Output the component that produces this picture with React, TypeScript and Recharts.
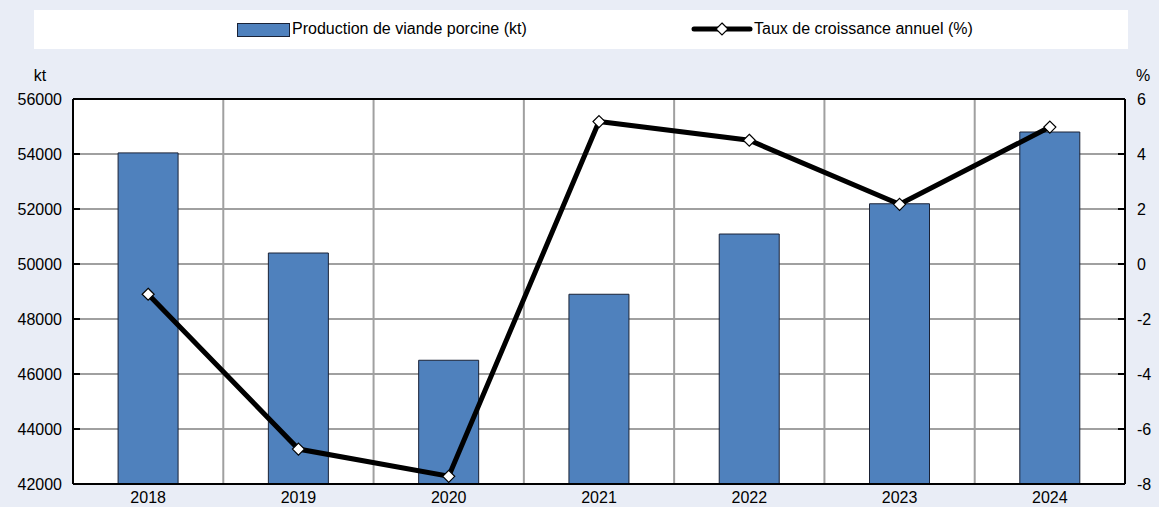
import {
  ComposedChart,
  Bar,
  Line,
  XAxis,
  YAxis,
  CartesianGrid,
  ReferenceLine,
} from 'recharts';

const years = ['2018', '2019', '2020', '2021', '2022', '2023', '2024'];
const production = [54040, 50400, 46500, 48900, 51090, 52190, 54800];
const growthRate = [-1.1, -6.73, -7.72, 5.18, 4.5, 2.17, 4.98];

const leftTicks = [42000, 44000, 46000, 48000, 50000, 52000, 54000, 56000];
const rightTicks = [-8, -6, -4, -2, 0, 2, 4, 6];

const BAR_NAME = 'Production de viande porcine (kt)';
const LINE_NAME = 'Taux de croissance annuel (%)';

const FONT = "'Liberation Sans', Arial, sans-serif";
const BG = '#e9edf6';
const BAR_FILL = '#4f81bd';

const data = years.map((year, i) => ({
  year,
  production: production[i],
  growth: growthRate[i],
}));

function Diamond(props: { cx?: number; cy?: number }) {
  const { cx, cy } = props;
  if (cx == null || cy == null) return null;
  const r = 6;
  return (
    <path
      d={`M${cx},${cy - r} L${cx + r},${cy} L${cx},${cy + r} L${cx - r},${cy} Z`}
      fill="#fff"
      stroke="#000"
      strokeWidth={1.2}
    />
  );
}

// vertical grid lines sit on the category boundaries, not the centres
function boundaryLines({ offset }: { offset: { left: number; width: number } }) {
  const step = offset.width / years.length;
  return years.slice(1).map((_, i) => offset.left + step * (i + 1));
}

function LegendBox() {
  return (
    <div
      style={{
        position: 'absolute',
        left: 34,
        top: 10,
        width: 1094,
        height: 39,
        background: '#fff',
        fontFamily: FONT,
        fontSize: 16,
        color: '#000',
      }}
    >
      <div style={{ position: 'absolute', left: 203, top: 13, width: 51, height: 12, background: BAR_FILL, border: '1px solid #1a2236' }} />
      <span style={{ position: 'absolute', left: 258, top: 9, lineHeight: '20px', whiteSpace: 'nowrap' }}>{BAR_NAME}</span>
      <svg style={{ position: 'absolute', left: 657, top: 8 }} width={62} height={22}>
        <line x1={3} y1={11} x2={59} y2={11} stroke="#000" strokeWidth={5} strokeLinecap="round" />
        <path d="M31,5 L37,11 L31,17 L25,11 Z" fill="#fff" stroke="#000" strokeWidth={1.2} />
      </svg>
      <span style={{ position: 'absolute', left: 720, top: 9, lineHeight: '20px', whiteSpace: 'nowrap' }}>{LINE_NAME}</span>
    </div>
  );
}

export default function App() {
  return (
    <div style={{ position: 'absolute', left: 0, top: 0, width: 1159, height: 507, background: BG, overflow: 'hidden' }}>
      <ComposedChart
        width={1159}
        height={507}
        data={data}
        margin={{ top: 99, right: 0, bottom: 0, left: 0 }}
        barCategoryGap="30%"
      >
        <CartesianGrid
          yAxisId="left"
          stroke="#a0a0a0"
          strokeWidth={2}
          fill="#fff"
          verticalCoordinatesGenerator={boundaryLines}
        />
        <XAxis
          dataKey="year"
          height={23}
          axisLine={{ stroke: '#000', strokeWidth: 2 }}
          tickLine={false}
          tickSize={0}
          tickMargin={8}
          tick={{ fontFamily: FONT, fontSize: 16, fill: '#000' }}
        />
        <YAxis
          yAxisId="left"
          width={73}
          domain={[42000, 56000]}
          ticks={leftTicks}
          interval={0}
          axisLine={{ stroke: '#000', strokeWidth: 2 }}
          tickSize={-7}
          tickMargin={18}
          tickLine={{ stroke: '#000', strokeWidth: 2 }}
          tick={{ fontFamily: FONT, fontSize: 16, fill: '#000' }}
          label={{ value: 'kt', content: () => (
            <text x={40} y={81} textAnchor="middle" fontFamily={FONT} fontSize={16} fill="#000">kt</text>
          ) }}
        />
        <YAxis
          yAxisId="right"
          orientation="right"
          width={34}
          domain={[-8, 6]}
          ticks={rightTicks}
          interval={0}
          axisLine={{ stroke: '#000', strokeWidth: 2 }}
          tickSize={-7}
          tickMargin={19}
          tickLine={{ stroke: '#000', strokeWidth: 2 }}
          tick={{ fontFamily: FONT, fontSize: 16, fill: '#000' }}
          label={{ value: '%', content: () => (
            <text x={1143} y={81} textAnchor="middle" fontFamily={FONT} fontSize={16} fill="#000">%</text>
          ) }}
        />
        <ReferenceLine yAxisId="left" y={56000} stroke="#000" strokeWidth={2} />
        <Bar
          yAxisId="left"
          dataKey="production"
          name={BAR_NAME}
          fill={BAR_FILL}
          stroke="#1a2236"
          strokeWidth={1}
          isAnimationActive={false}
        />
        <Line
          yAxisId="right"
          dataKey="growth"
          name={LINE_NAME}
          type="linear"
          stroke="#000"
          strokeWidth={5}
          dot={<Diamond />}
          activeDot={false}
          isAnimationActive={false}
        />
      </ComposedChart>
      <LegendBox />
    </div>
  );
}
